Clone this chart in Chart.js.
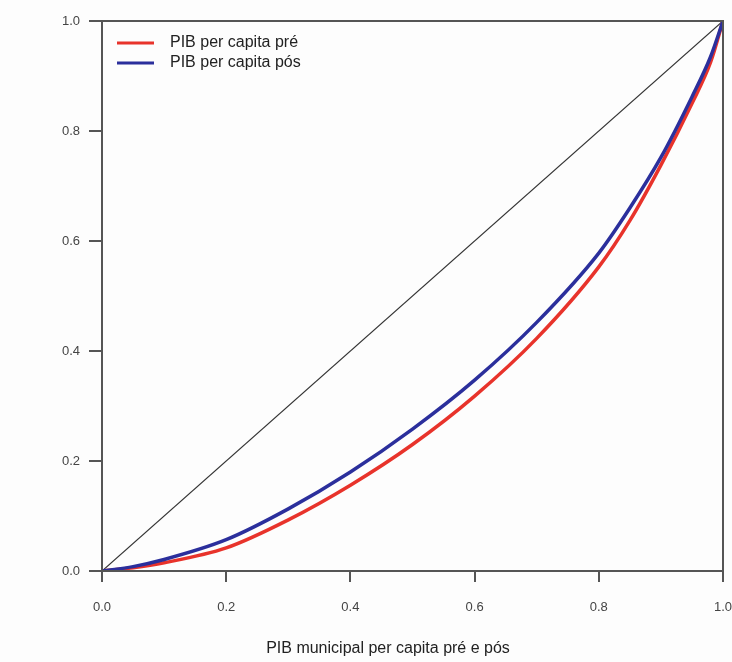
<!DOCTYPE html>
<html>
<head>
<meta charset="utf-8">
<script src="https://cdn.jsdelivr.net/npm/chart.js@4.4.1/dist/chart.umd.min.js"></script>
<style>
    html, body { margin: 0; padding: 0; background: #fdfdfd; }
    #wrap { width: 732px; height: 662px; }
</style>
</head>
<body>
<div id="wrap"><canvas id="lorenz"></canvas></div>
<script>
// --- data ---
const popShare = [0, 0.05, 0.1, 0.2, 0.3, 0.4, 0.5, 0.6, 0.7, 0.8, 0.85, 0.9, 0.95, 0.98, 1.0];
const gdpPre  = [0, 0.006, 0.015, 0.042, 0.093, 0.156, 0.230, 0.318, 0.423, 0.553, 0.637, 0.738, 0.850, 0.925, 1.0];
const gdpPos  = [0, 0.008, 0.021, 0.057, 0.113, 0.180, 0.258, 0.347, 0.452, 0.578, 0.660, 0.752, 0.862, 0.935, 1.0];
const equality = [0, 1];
const tickValues = [0, 0.2, 0.4, 0.6, 0.8, 1.0];

const seriesNames = ['PIB per capita pré', 'PIB per capita pós'];
const seriesColors = ['#e8332b', '#2b2f9c'];
const xTitle = 'PIB municipal per capita pré e pós';
const FONT = '"Liberation Sans", Arial, sans-serif';

const toPoints = (xs, ys) => xs.map((x, i) => ({ x: x, y: ys[i] }));

// box around plot, legend inside top-left, x title
const framePlugin = {
    id: 'frame',
    afterDraw(chart) {
        const { ctx, chartArea: a } = chart;
        ctx.save();
        ctx.strokeStyle = '#555';
        ctx.lineWidth = 2;
        ctx.strokeRect(a.left, a.top, a.right - a.left, a.bottom - a.top);

        ctx.font = '16px ' + FONT;
        ctx.textBaseline = 'middle';
        seriesNames.forEach((name, i) => {
            const y = a.top + 22 + i * 20;
            ctx.strokeStyle = seriesColors[i];
            ctx.lineWidth = 3;
            ctx.beginPath();
            ctx.moveTo(a.left + 15, y);
            ctx.lineTo(a.left + 52, y);
            ctx.stroke();
            ctx.fillStyle = '#222';
            ctx.fillText(name, a.left + 68, y);
        });

        // axis title, a bit left of the plot centre like the original
        ctx.textAlign = 'center';
        ctx.fillStyle = '#222';
        ctx.fillText(xTitle, 388, 649);
        ctx.restore();
    }
};

const ctx = document.getElementById('lorenz').getContext('2d');
new Chart(ctx, {
    type: 'scatter',
    data: {
        datasets: [
            {
                label: seriesNames[1],
                data: toPoints(popShare, gdpPos),
                showLine: true,
                borderColor: seriesColors[1],
                borderWidth: 3.5,
                pointRadius: 0,
                cubicInterpolationMode: 'monotone',
                order: 0
            },
            {
                label: seriesNames[0],
                data: toPoints(popShare, gdpPre),
                showLine: true,
                borderColor: seriesColors[0],
                borderWidth: 3.5,
                pointRadius: 0,
                cubicInterpolationMode: 'monotone',
                order: 1
            },
            {
                label: 'igualdade',
                data: toPoints(equality, equality),
                showLine: true,
                borderColor: '#333',
                borderWidth: 1.2,
                pointRadius: 0,
                order: 2
            }
        ]
    },
    options: {
        responsive: true,
        maintainAspectRatio: false,
        animation: false,
        layout: { padding: { left: 0, right: 9, top: 21, bottom: 0 } },
        plugins: {
            legend: { display: false },
            tooltip: { enabled: false }
        },
        scales: {
            x: {
                type: 'linear',
                min: 0,
                max: 1,
                afterBuildTicks: s => { s.ticks = tickValues.map(v => ({ value: v })); },
                afterFit: s => { s.height = 91; s.paddingRight = 0; s.paddingLeft = 0; },
                border: { display: true, color: '#555', width: 2 },
                grid: { drawOnChartArea: false, drawTicks: true, tickLength: 11, color: '#555', lineWidth: 2 },
                ticks: {
                    padding: 18,
                    color: '#444',
                    font: { family: FONT, size: 13 },
                    maxRotation: 0,
                    callback: v => v.toFixed(1)
                }
            },
            y: {
                type: 'linear',
                min: 0,
                max: 1,
                afterBuildTicks: s => { s.ticks = tickValues.map(v => ({ value: v })); },
                afterFit: s => { s.width = 102; s.paddingTop = 0; s.paddingBottom = 0; },
                border: { display: true, color: '#555', width: 2 },
                grid: { drawOnChartArea: false, drawTicks: true, tickLength: 13, color: '#555', lineWidth: 2 },
                ticks: {
                    padding: 9,
                    color: '#444',
                    font: { family: FONT, size: 13 },
                    callback: v => v.toFixed(1)
                }
            }
        }
    },
    plugins: [framePlugin]
});
</script>
</body>
</html>
